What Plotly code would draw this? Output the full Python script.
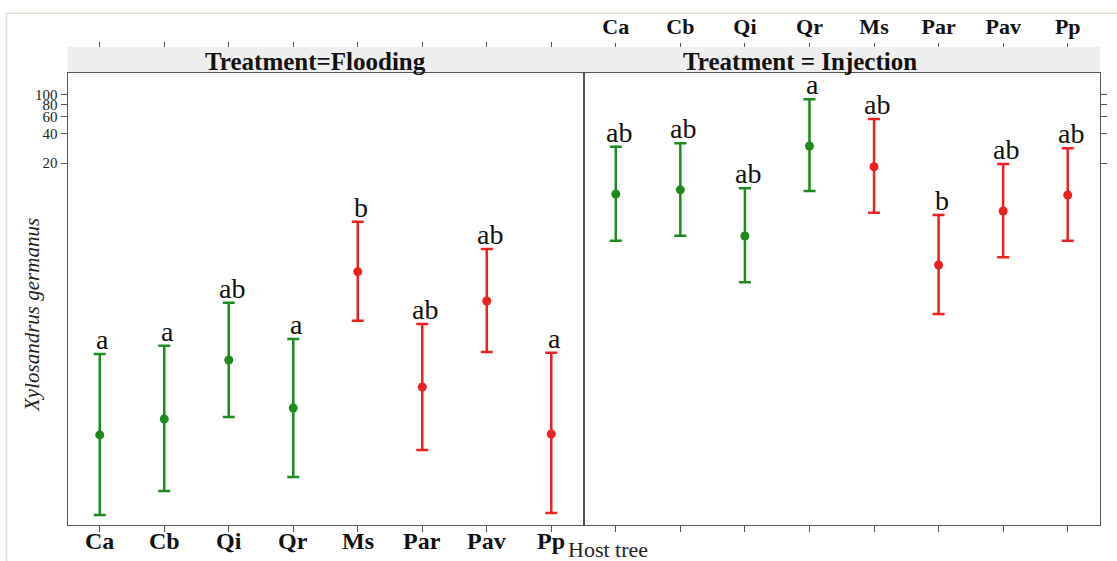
import numpy as np
import plotly.graph_objects as go

categories = ["Ca", "Cb", "Qi", "Qr", "Ms", "Par", "Pav", "Pp"]
group_colors = ["green", "green", "green", "green", "red", "red", "red", "red"]

flood_mean = [0.0321, 0.0468, 0.189, 0.0607, 1.53, 0.0998, 0.764, 0.0328]
flood_upper = [0.218, 0.265, 0.733, 0.310, 4.99, 0.443, 2.61, 0.225]
flood_lower = [0.00482, 0.00851, 0.0491, 0.01186, 0.479, 0.0225, 0.229, 0.00506]
flood_letters = ["a", "a", "ab", "a", "b", "ab", "ab", "a"]

inj_mean = [9.61, 10.6, 3.56, 29.9, 18.3, 1.79, 6.42, 9.38]
inj_upper = [29.4, 31.9, 11.0, 90.3, 56.7, 5.84, 19.5, 28.3]
inj_lower = [3.18, 3.58, 1.19, 10.3, 6.17, 0.561, 2.15, 3.18]
inj_letters = ["ab", "ab", "ab", "a", "ab", "b", "ab", "ab"]

y_ticks = [20, 40, 60, 80, 100]
panel_titles = ["Treatment=Flooding", "Treatment = Injection"]

W, H = 1117, 561
GREEN = "#1e8a1e"
RED = "#ee2020"
AX = "#555555"
SERIF = "Liberation Serif"

def px_x(p):
    return p / W

def px_y(p):
    return (H - p) / H

xl = [px_x(67.5), px_x(583.5)]
xr = [px_x(583.5), px_x(1100)]
yd = [px_y(525), px_y(73)]
head_top = px_y(47)

fig = go.Figure()
xidx = list(range(len(categories)))

panels = [
    ("x", "y", flood_mean, flood_upper, flood_lower, flood_letters),
    ("x2", "y2", inj_mean, inj_upper, inj_lower, inj_letters),
]
for xa, ya, mean, up, lo, letters in panels:
    for grp, col in (("green", GREEN), ("red", RED)):
        ids = [i for i in xidx if group_colors[i] == grp]
        fig.add_trace(go.Scatter(
            x=[xidx[i] for i in ids],
            y=[mean[i] for i in ids],
            mode="markers",
            marker=dict(color=col, size=9),
            error_y=dict(type="data", symmetric=False,
                         array=[up[i] - mean[i] for i in ids],
                         arrayminus=[mean[i] - lo[i] for i in ids],
                         color=col, thickness=2.5, width=6),
            xaxis=xa, yaxis=ya, showlegend=False, cliponaxis=False,
            hoverinfo="skip",
        ))
    for i in xidx:
        fig.add_annotation(x=xidx[i], y=np.log10(up[i]), xref=xa, yref=ya,
                           text=letters[i], showarrow=False, yanchor="bottom",
                           xshift=3, yshift=-3,
                           font=dict(family=SERIF, size=28, color="#111111"))

# invisible traces so the top (header) tick axes are drawn
for xa, ya, mean in (("x3", "y", flood_mean), ("x4", "y2", inj_mean)):
    fig.add_trace(go.Scatter(x=xidx, y=mean, mode="markers",
                             marker=dict(opacity=0), xaxis=xa, yaxis=ya,
                             showlegend=False, hoverinfo="skip"))

# bottom category labels of the Flooding panel
for i in xidx:
    fig.add_annotation(x=xidx[i], y=px_y(541), xref="x", yref="paper",
                       text=categories[i], showarrow=False, yanchor="middle",
                       font=dict(family=SERIF, size=24, color="#111111", weight="bold"))

common_x = dict(range=[-0.5, 7.5], tickmode="array", tickvals=xidx,
                showline=True, linecolor=AX, linewidth=1, mirror=True,
                ticks="outside", ticklen=6, tickcolor=AX, showgrid=False,
                zeroline=False, fixedrange=True, showticklabels=False)
yrange = [-2.419, 2.226]
common_y = dict(type="log", range=yrange, tickmode="array", tickvals=y_ticks,
                ticktext=[str(v) for v in y_ticks], showline=True,
                linecolor=AX, linewidth=1, mirror=True, ticks="outside",
                ticklen=6, tickcolor=AX, showgrid=False, zeroline=False)

fig.update_layout(
    width=W, height=H, margin=dict(l=0, r=0, t=0, b=0),
    paper_bgcolor="white", plot_bgcolor="white",
    xaxis=dict(domain=xl, anchor="y", **common_x),
    xaxis2=dict(domain=xr, anchor="y2", **common_x),
    xaxis3=dict(overlaying="x", anchor="free", position=head_top, side="top",
                range=[-0.5, 7.5], tickmode="array", tickvals=xidx,
                ticks="outside", ticklen=5, tickcolor=AX, showticklabels=False,
                showline=False, showgrid=False, zeroline=False),
    xaxis4=dict(overlaying="x2", anchor="free", position=head_top, side="top",
                range=[-0.5, 7.5], tickmode="array", tickvals=xidx,
                ticktext=categories, ticks="outside", ticklen=4, tickcolor=AX,
                tickfont=dict(family=SERIF, size=22, color="#111111", weight="bold"),
                showline=False, showgrid=False, zeroline=False),
    yaxis=dict(domain=yd, anchor="x",
               tickfont=dict(family=SERIF, size=15, color="#222222"),
               **common_y),
    yaxis2=dict(domain=yd, anchor="x2", side="right", showticklabels=False,
                **common_y),
)

# header band
fig.add_shape(type="rect", xref="paper", yref="paper", x0=xl[0], x1=xr[1],
              y0=yd[1], y1=head_top, fillcolor="#efefef", line=dict(width=0),
              layer="below")
# outer light frame
fig.add_shape(type="rect", xref="paper", yref="paper", x0=px_x(6.5), x1=1.05,
              y0=-0.05, y1=px_y(13.3), fillcolor="rgba(0,0,0,0)",
              line=dict(color="#e2ddcf", width=1.5), layer="below")

# panel titles
for cx, txt in ((315, panel_titles[0]), (800, panel_titles[1])):
    fig.add_annotation(x=px_x(cx), y=px_y(61), xref="paper", yref="paper",
                       text=txt, showarrow=False, xanchor="center", yanchor="middle",
                       font=dict(family=SERIF, size=25, color="#111111", weight="bold"))

# axis titles
fig.add_annotation(x=px_x(32), y=px_y(315), xref="paper", yref="paper",
                   text="<i>Xylosandrus germanus</i>", textangle=-90, showarrow=False,
                   xanchor="center", yanchor="middle",
                   font=dict(family=SERIF, size=21, color="#222222"))
fig.add_annotation(x=px_x(566), y=px_y(549), xref="paper", yref="paper",
                   text="Host tree", showarrow=False, xanchor="left", yanchor="middle",
                   font=dict(family=SERIF, size=22, color="#222222"))

fig.write_html("out.html")
